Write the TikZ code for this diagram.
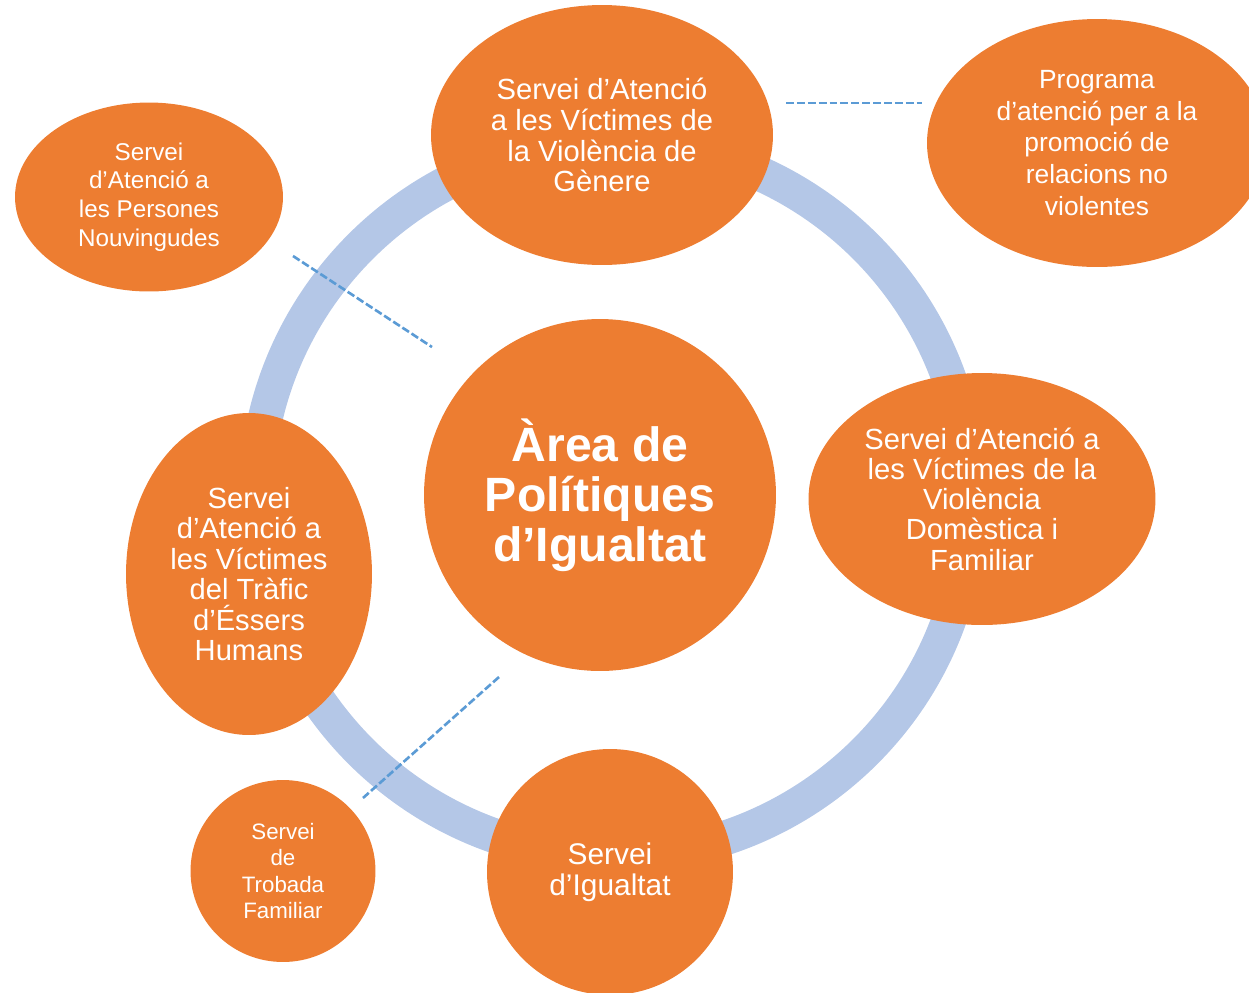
\documentclass[tikz,border=0pt]{standalone}
\usepackage{fontspec}
\setmainfont{Liberation Sans}
\usepackage{xcolor}
\usetikzlibrary{shapes.geometric}

\definecolor{areaorange}{HTML}{ED7D31}
\definecolor{ringblue}{HTML}{B4C7E7}
\definecolor{linkblue}{HTML}{5B9BD5}

\begin{document}
\begin{tikzpicture}[
    x=0.02cm, y=-0.02cm,
    hub/.style={circle, fill=areaorange, text=white, align=center, inner sep=0pt, minimum size=7.04cm, font=\fontsize{27.4}{28.4}\selectfont\bfseries},
    service/.style={ellipse, fill=areaorange, text=white, align=center, inner sep=0pt, font=\fontsize{16.6}{17.4}\selectfont},
    link/.style={draw=linkblue, line width=1.5pt, dash pattern=on 4.5pt off 1.7pt}
]
    \useasboundingbox (0,0) rectangle (1249,992);

    % Ring
    \draw [ringblue, line width=19.8pt] (613,499) circle [radius=7.14cm];

    % Nodes
    \node [hub] (area) at (600,495) {Àrea de\\Polítiques\\d’Igualtat};
    \node [service, minimum width=6.84cm, minimum height=5.2cm, font=\fontsize{16.6}{17.6}\selectfont] (genere) at (602,135) {Servei d’Atenció\\a les Víctimes de\\la Violència de\\Gènere};
    \node [service, minimum width=6.8cm, minimum height=4.96cm, font=\fontsize{15}{18.1}\selectfont] (programa) at (1097,143) {Programa\\d’atenció per a la\\promoció de\\relacions no\\violentes};
    \node [service, minimum width=5.36cm, minimum height=3.78cm, font=\fontsize{13.8}{16.3}\selectfont] (nouvingudes) at (149,197) {Servei\\d’Atenció a\\les Persones\\Nouvingudes};
    \node [service, minimum width=6.94cm, minimum height=5.04cm, font=\fontsize{16.6}{17.2}\selectfont] (domestica) at (982,499) {Servei d’Atenció a\\les Víctimes de la\\Violència\\Domèstica i\\Familiar};
    \node [service, minimum width=4.92cm, minimum height=6.44cm] (trafic) at (249,574) {Servei\\d’Atenció a\\les Víctimes\\del Tràfic\\d’Éssers\\Humans};
    \node [service, minimum width=4.92cm, minimum height=4.92cm, font=\fontsize{17}{17.6}\selectfont] (igualtat) at (610,872) {Servei\\d’Igualtat};
    \node [service, minimum width=3.7cm, minimum height=3.64cm, font=\fontsize{12.7}{14.9}\selectfont] (trobada) at (283,871) {Servei\\de\\Trobada\\Familiar};

    % Free ends of the dashed links
    \coordinate (l1a) at (786,103);
    \coordinate (l1b) at (922,103);
    \coordinate (l2a) at (293,256);
    \coordinate (l2b) at (432,347);
    \coordinate (l3a) at (499,677);
    \coordinate (l3b) at (363,798);

    % Paths
    \path [link] (l1a) -- (l1b);
    \path [link] (l2a) -- (l2b);
    \path [link] (l3a) -- (l3b);
\end{tikzpicture}
\end{document}
